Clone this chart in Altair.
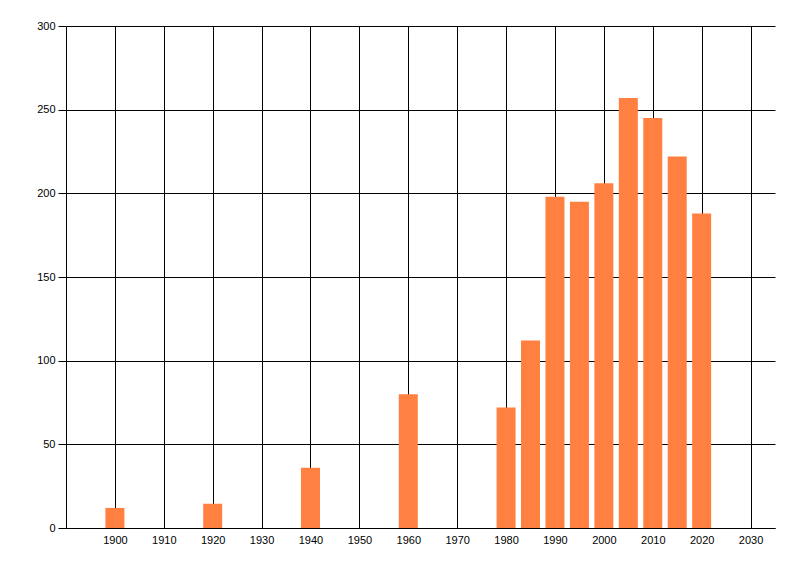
import altair as alt
import pandas as pd

years = [1900, 1920, 1940, 1960, 1980, 1985, 1990, 1995, 2000, 2005, 2010, 2015, 2020]
values = [12, 14.5, 36, 80, 72, 112, 198, 195, 206, 257, 245, 222, 188]
x_ticks = list(range(1900, 2031, 10))
y_ticks = [0, 50, 100, 150, 200, 250, 300]

df = pd.DataFrame({"year": years, "value": values})

chart = alt.Chart(df).mark_bar(size=19, color="#FF8040").encode(
    x=alt.X("year:Q",
            scale=alt.Scale(domain=[1890, 2035], nice=False, zero=False, padding=0),
            axis=alt.Axis(values=x_ticks, format="d", title=None, grid=True,
                          gridColor="#000000", gridOpacity=1, gridWidth=1,
                          domainColor="#000000", ticks=False, labelPadding=6,
                          labelFont="Liberation Sans", labelFontSize=11,
                          labelColor="#000000", labelFlush=False)),
    y=alt.Y("value:Q",
            scale=alt.Scale(domain=[0, 300], nice=False, padding=0),
            axis=alt.Axis(values=y_ticks, title=None, grid=True,
                          gridColor="#000000", gridOpacity=1, gridWidth=1,
                          domainColor="#000000", tickColor="#000000", tickSize=8,
                          labelPadding=3, labelFont="Liberation Sans",
                          labelFontSize=11, labelColor="#000000")),
).properties(
    width=709, height=502,
    autosize=alt.AutoSizeParams(type="none"),
    padding={"left": 58, "top": 18, "right": 8, "bottom": 40},
).configure_view(stroke=None).configure_axis(
    domainWidth=1, tickWidth=1
)

chart.save("out.html", embed_options={"renderer": "svg", "actions": False})
